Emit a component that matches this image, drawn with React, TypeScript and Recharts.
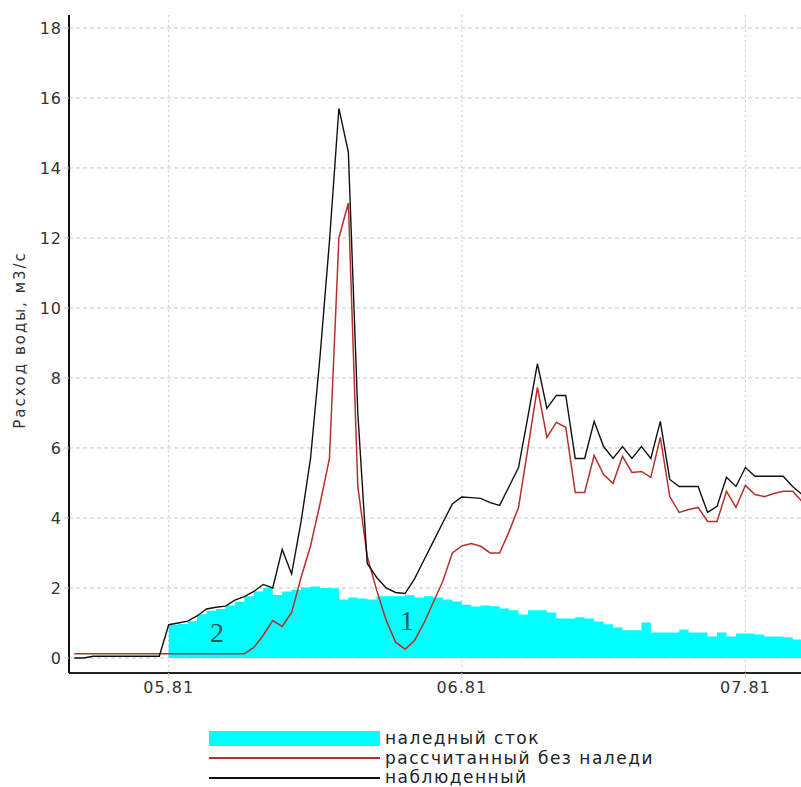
import React from "react";
import {
  ComposedChart,
  Area,
  Line,
  XAxis,
  YAxis,
  CartesianGrid,
  ReferenceDot,
  Legend,
} from "recharts";

// day 0 = 1 May 1981
const days = [
  -10, -9, -8, -7, -6, -5, -4, -3, -2, -1,
  0, 1, 2, 3, 4, 5, 6, 7, 8, 9,
  10, 11, 12, 13, 14, 15, 16, 17, 18, 19,
  20, 21, 22, 23, 24, 25, 26, 27, 28, 29,
  30, 31, 32, 33, 34, 35, 36, 37, 38, 39,
  40, 41, 42, 43, 44, 45, 46, 47, 48, 49,
  50, 51, 52, 53, 54, 55, 56, 57, 58, 59,
  60, 61, 62, 63, 64, 65, 66, 67, 68,
];

// наблюденный
const observed = [
  0.0, 0.0, 0.05, 0.05, 0.05, 0.05, 0.05, 0.05, 0.05, 0.05,
  0.95, 1.0, 1.05, 1.2, 1.4, 1.45, 1.48, 1.65, 1.75, 1.9,
  2.1, 2.0, 3.1, 2.4, 3.9, 5.7, 8.6, 11.9, 15.7, 14.45,
  7.0, 2.7, 2.3, 2.0, 1.87, 1.84, 2.26, 2.8, 3.33, 3.87,
  4.4, 4.6, 4.58, 4.56, 4.44, 4.36, 4.9, 5.44, 6.9, 8.41,
  7.13, 7.5, 7.5, 5.7, 5.7, 6.76, 6.04, 5.7, 6.04, 5.7,
  6.04, 5.7, 6.76, 5.1, 4.9, 4.9, 4.9, 4.16, 4.33, 5.16,
  4.9, 5.44, 5.19, 5.19, 5.19, 5.19, 4.9, 4.67, 4.4,
];

// рассчитанный без наледи
const calculated = [
  0.12, 0.12, 0.12, 0.12, 0.12, 0.12, 0.12, 0.12, 0.12, 0.12,
  0.12, 0.12, 0.12, 0.12, 0.12, 0.12, 0.12, 0.12, 0.12, 0.3,
  0.65, 1.07, 0.9, 1.3, 2.3, 3.2, 4.4, 5.7, 12.0, 13.0,
  4.9, 2.9, 1.93, 1.08, 0.45, 0.25, 0.5, 1.0, 1.6, 2.2,
  3.0, 3.2, 3.27, 3.19, 3.0, 3.0, 3.61, 4.3, 6.0, 7.73,
  6.3, 6.73, 6.59, 4.73, 4.73, 5.79, 5.24, 4.99, 5.76, 5.3,
  5.33, 5.16, 6.3, 4.61, 4.16, 4.24, 4.3, 3.9, 3.9, 4.76,
  4.3, 4.93, 4.67, 4.61, 4.7, 4.76, 4.76, 4.47, 4.2,
];

// наледный сток
const icing = [
  null, null, null, null, null, null, null, null, null, null,
  0.95, 0.97, 1.05, 1.25, 1.35, 1.4, 1.5, 1.6, 1.76, 1.9,
  2.0, 1.8, 1.9, 1.95, 2.01, 2.04, 2.0, 1.99, 1.67, 1.73,
  1.7, 1.67, 1.76, 1.76, 1.76, 1.79, 1.73, 1.76, 1.73, 1.67,
  1.61, 1.52, 1.47, 1.5, 1.48, 1.41, 1.36, 1.24, 1.36, 1.36,
  1.3, 1.13, 1.13, 1.16, 1.13, 1.04, 0.96, 0.87, 0.79, 0.79,
  1.01, 0.73, 0.73, 0.73, 0.81, 0.73, 0.73, 0.61, 0.73, 0.61,
  0.7, 0.7, 0.67, 0.61, 0.61, 0.59, 0.53, 0.52, 0.5,
];

const monthTicks = [0, 31, 61];
const monthLabels = ["05.81", "06.81", "07.81"];
const valueTicks = [0, 2, 4, 6, 8, 10, 12, 14, 16, 18];
const seriesNames = ["наледный сток", "рассчитанный без наледи", "наблюденный"];

const data = days.map((d, i) => ({
  day: d,
  ice: icing[i],
  calc: calculated[i],
  obs: observed[i],
}));

const FONT = "'DejaVu Sans', Verdana, sans-serif";
const CYAN = "#00ffff";
const RED = "#b5302a";
const BLACK = "#111";

const renderLegend = () => (
  <div style={{ fontFamily: FONT, fontSize: 17, letterSpacing: 1.5, color: "#222" }}>
    {seriesNames.map((name, i) => (
      <div key={name} style={{ display: "flex", alignItems: "center", height: 19.5 }}>
        <div
          style={{
            width: 171,
            height: i === 0 ? 15 : 2,
            background: i === 0 ? CYAN : i === 1 ? RED : BLACK,
          }}
        />
        <span style={{ marginLeft: 5, lineHeight: "19.5px", whiteSpace: "nowrap" }}>{name}</span>
      </div>
    ))}
  </div>
);

const axisTitle = (props: any) => {
  const vb = props.viewBox || {};
  const cy = vb.y + vb.height / 2 - 4;
  return (
    <text
      x={20}
      y={cy}
      transform={`rotate(-90, 20, ${cy})`}
      textAnchor="middle"
      dominantBaseline="central"
      fontFamily={FONT}
      fontSize={15}
      letterSpacing={2}
      fill="#333"
    >
      Расход воды, м3/с
    </text>
  );
};

const markLabel = (value: string) => ({
  value,
  position: "center" as const,
  fontFamily: "'Liberation Serif', serif",
  fontSize: 28,
  fill: "#24585a",
});

export default function App() {
  return (
    <div
      style={{
        position: "absolute",
        left: 0,
        top: 0,
        width: 801,
        height: 787,
        overflow: "hidden",
        background: "#fff",
      }}
    >
      <ComposedChart
        width={840}
        height={787}
        data={data}
        margin={{ top: 15, right: 10, bottom: 84, left: 0 }}
      >
        <CartesianGrid
          stroke="#c8c8c8"
          strokeDasharray="4 3"
          vertical={false}
          horizontalValues={valueTicks}
        />
        <CartesianGrid
          stroke="#c8c8c8"
          strokeDasharray="2 3"
          horizontal={false}
          verticalValues={monthTicks}
        />
        <XAxis
          dataKey="day"
          type="number"
          domain={[-10.55, 69.95]}
          allowDataOverflow
          ticks={monthTicks}
          tickFormatter={(v: number) => monthLabels[monthTicks.indexOf(v)] ?? ""}
          height={30}
          tickSize={5}
          tickMargin={4}
          tickLine={{ stroke: "#c8c8c8" }}
          axisLine={{ stroke: "#222", strokeWidth: 2 }}
          tick={{ fontFamily: FONT, fontSize: 16, fill: "#333", letterSpacing: 1 }}
        />
        <XAxis
          xAxisId="top"
          orientation="top"
          dataKey="day"
          type="number"
          domain={[-10.55, 69.95]}
          allowDataOverflow
          height={0}
          tick={false}
          tickLine={false}
          axisLine={{ stroke: "#222", strokeWidth: 1.5 }}
        />
        <YAxis
          type="number"
          domain={[-0.43, 18.37]}
          allowDataOverflow
          ticks={valueTicks}
          width={69}
          tickSize={5}
          tickMargin={2}
          tickLine={{ stroke: "#c8c8c8" }}
          axisLine={{ stroke: "#111", strokeWidth: 2 }}
          tick={{ fontFamily: FONT, fontSize: 16, fill: "#333", letterSpacing: 1 }}
          label={{ content: axisTitle }}
        />
        <Area
          dataKey="ice"
          name={seriesNames[0]}
          type="stepAfter"
          fill={CYAN}
          fillOpacity={1}
          stroke="none"
          baseValue={0}
          isAnimationActive={false}
        />
        <Line
          dataKey="calc"
          name={seriesNames[1]}
          type="linear"
          stroke={RED}
          strokeWidth={1.5}
          dot={false}
          isAnimationActive={false}
        />
        <Line
          dataKey="obs"
          name={seriesNames[2]}
          type="linear"
          stroke={BLACK}
          strokeWidth={1.4}
          dot={false}
          isAnimationActive={false}
        />
        <ReferenceDot x={5.1} y={0.74} r={0} fill="none" stroke="none" label={markLabel("2")} />
        <ReferenceDot x={25.2} y={1.09} r={0} fill="none" stroke="none" label={markLabel("1")} />
        <Legend
          layout="vertical"
          align="center"
          verticalAlign="middle"
          content={renderLegend}
          wrapperStyle={{ left: 209, top: 729, width: 520, height: 60 }}
        />
      </ComposedChart>
    </div>
  );
}
